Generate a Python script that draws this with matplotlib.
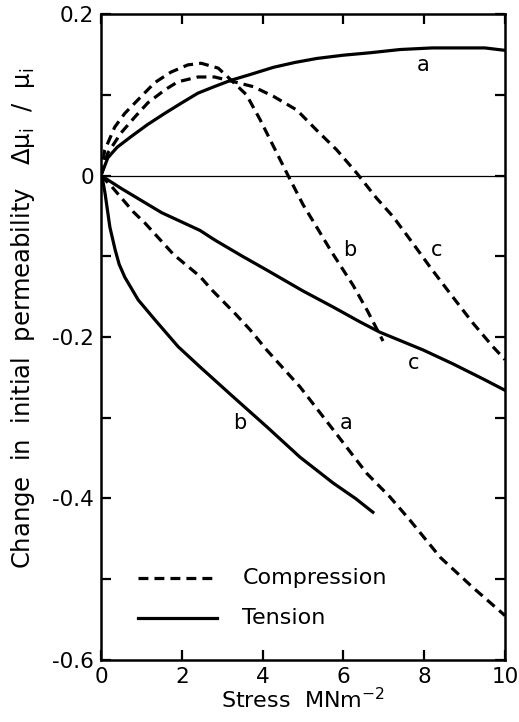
#!/usr/bin/env python3
from matplotlib import pyplot as plt
from matplotlib.ticker import MultipleLocator
import numpy as np

# tension curves (solid)
ta_x = [0, 0.17, 0.4, 0.74, 1.15, 1.58, 2.0, 2.4, 2.8, 3.22, 3.69, 4.27, 4.8, 5.35, 6.0, 6.66, 7.4, 8.2, 9.0, 9.5, 10.0]
ta_y = [0, 0.022, 0.035, 0.048, 0.063, 0.077, 0.090, 0.102, 0.110, 0.118, 0.125, 0.134, 0.140, 0.145, 0.149, 0.152, 0.156, 0.158, 0.158, 0.158, 0.155]

tb_x = [0, 0.05, 0.1, 0.22, 0.35, 0.45, 0.59, 0.92, 1.34, 1.91, 2.45, 3.27, 4.1, 4.93, 5.75, 6.3, 6.73]
tb_y = [0, -0.008, -0.022, -0.064, -0.092, -0.110, -0.126, -0.154, -0.179, -0.212, -0.237, -0.274, -0.311, -0.349, -0.381, -0.400, -0.417]

tc_x = [0, 0.5, 1.5, 2.45, 2.82, 3.5, 4.1, 5.0, 5.75, 6.4, 6.9, 7.97, 8.7, 9.46, 10.0]
tc_y = [0, -0.016, -0.046, -0.068, -0.080, -0.100, -0.117, -0.143, -0.163, -0.181, -0.194, -0.216, -0.233, -0.252, -0.266]

# compression curves (dashed)
ca_x = [0, 0.27, 0.8, 1.09, 1.8, 2.45, 2.75, 3.3, 3.69, 4.1, 4.93, 5.75, 6.58, 7.15, 7.65, 8.4, 9.2, 10.0]
ca_y = [0, -0.014, -0.045, -0.059, -0.098, -0.125, -0.142, -0.170, -0.191, -0.216, -0.262, -0.315, -0.369, -0.398, -0.427, -0.473, -0.510, -0.545]

cb_x = [0, 0.09, 0.34, 0.59, 0.92, 1.33, 1.73, 2.15, 2.48, 2.9, 3.14, 3.6, 3.94, 4.27, 4.6, 5.0, 5.34, 5.7, 6.24, 6.6, 6.98]
cb_y = [0, 0.031, 0.060, 0.077, 0.094, 0.115, 0.128, 0.137, 0.139, 0.133, 0.122, 0.100, 0.069, 0.036, 0.003, -0.036, -0.064, -0.094, -0.136, -0.168, -0.205]

cc_x = [0, 0.17, 0.5, 0.83, 1.16, 1.58, 1.9, 2.4, 2.81, 3.22, 3.77, 4.27, 4.85, 5.34, 5.83, 6.33, 6.82, 7.23, 7.72, 8.14, 8.64, 9.21, 9.7, 10.0]
cc_y = [0, 0.028, 0.053, 0.072, 0.090, 0.106, 0.116, 0.122, 0.122, 0.117, 0.110, 0.098, 0.081, 0.056, 0.032, 0.003, -0.028, -0.051, -0.084, -0.113, -0.146, -0.183, -0.212, -0.228]

labels = [('a', 7.97, 0.137), ('b', 6.16, -0.092), ('c', 8.3, -0.092),
          ('c', 7.73, -0.232), ('b', 3.44, -0.307), ('a', 6.08, -0.307)]

plt.rcParams['font.family'] = ['DejaVu Sans']
plt.rcParams['mathtext.default'] = 'regular'
fig = plt.figure(figsize=(5.19, 7.22), dpi=100)
ax = fig.add_axes([0.1946, 0.0859, 0.7784, 0.8947])

lw = 2.3
dash = (0, (3.1, 1.9))
ax.axhline(0, color='black', lw=0.9)
ax.plot(ta_x, ta_y, color='black', lw=lw)
ax.plot(tb_x, tb_y, color='black', lw=lw)
ax.plot(tc_x, tc_y, color='black', lw=lw)
ax.plot(ca_x, ca_y, color='black', lw=lw, ls=dash)
ax.plot(cb_x, cb_y, color='black', lw=lw, ls=dash)
ax.plot(cc_x, cc_y, color='black', lw=lw, ls=dash)

for t, x, y in labels:
    ax.text(x, y, t, fontsize=15, ha='center', va='center')

# legend drawn by hand in axes fraction
ax.plot([0.092, 0.287], [0.127, 0.127], transform=ax.transAxes, color='black', lw=lw, ls=dash)
ax.plot([0.092, 0.287], [0.065, 0.065], transform=ax.transAxes, color='black', lw=lw)
ax.text(0.35, 0.127, 'Compression', transform=ax.transAxes, fontsize=16, va='center')
ax.text(0.35, 0.065, 'Tension', transform=ax.transAxes, fontsize=16, va='center')

ax.set_xlim(0, 10)
ax.set_ylim(-0.6, 0.2)
ax.xaxis.set_major_locator(MultipleLocator(2))
ax.yaxis.set_minor_locator(MultipleLocator(0.1))
ax.set_yticks([0.2, 0, -0.2, -0.4, -0.6])
ax.set_yticklabels(['0.2', '0', '-0.2', '-0.4', '-0.6'])
ax.tick_params(which='both', direction='in', top=True, right=True, length=7, width=1.6, labelsize=15.5, pad=5)
for s in ax.spines.values():
    s.set_linewidth(1.8)

ax.set_xlabel(r'Stress  MNm$^{-2}$', fontsize=16, labelpad=0)
fig.text(0.044, 0.56, 'Change  in  initial  permeability   Δμ$_{i}$  /  μ$_{i}$',
         rotation=90, fontsize=17.5, ha='center', va='center')

plt.savefig('out.png', dpi=100)
